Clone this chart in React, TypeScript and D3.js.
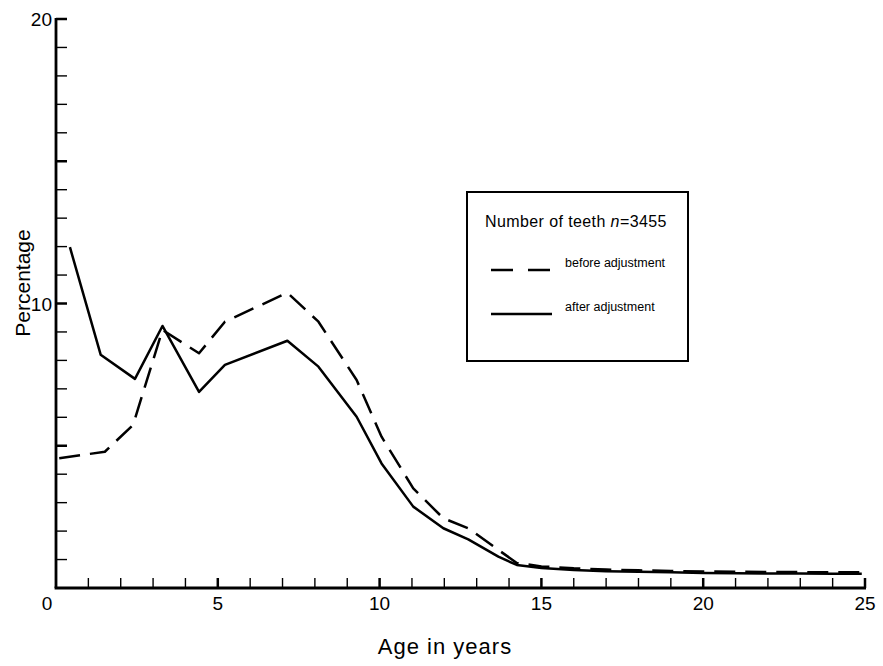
import React, { useEffect, useRef } from 'react';
import * as d3 from 'd3';

// Ages (years) and percentages
const ageAfter = [0.43, 1.38, 2.44, 3.29, 4.42, 5.22, 7.15, 8.11, 9.29, 10.06, 11.04, 11.97, 12.74, 13.67, 14.24, 15, 16, 17, 18, 19, 20, 21, 22, 23, 24, 24.9];
const pctAfter = [11.98, 8.2, 7.35, 9.21, 6.89, 7.84, 8.69, 7.78, 6.02, 4.38, 2.86, 2.1, 1.71, 1.1, 0.81, 0.7, 0.63, 0.59, 0.57, 0.55, 0.53, 0.52, 0.51, 0.51, 0.5, 0.5];

const ageBefore = [0.1, 1.51, 2.38, 3.29, 4.42, 5.22, 7.15, 8.11, 9.29, 10.06, 11.04, 11.97, 12.74, 13.67, 14.24, 15, 16, 17, 18, 19, 20, 21, 22, 23, 24, 24.9];
const pctBefore = [4.56, 4.79, 5.73, 9.07, 8.25, 9.36, 10.38, 9.36, 7.31, 5.32, 3.5, 2.45, 2.1, 1.34, 0.88, 0.76, 0.69, 0.65, 0.62, 0.6, 0.58, 0.57, 0.56, 0.56, 0.55, 0.55];

const xTickLabels = [0, 5, 10, 15, 20, 25];
const yTickLabels = [10, 20];

const legendTitle = 'Number of teeth ';
const legendN = 'n';
const legendValue = '=3455';
const seriesNames = ['before adjustment', 'after adjustment'];

const FONT = '"Liberation Sans", Arial, Helvetica, sans-serif';

const App = () => {
  const svgRef = useRef<SVGSVGElement>(null);

  useEffect(() => {
    const svg = d3.select(svgRef.current);
    svg.selectAll('*').remove();

    const width = 883;
    const height = 666;

    const x = d3.scaleLinear().domain([0, 25]).range([56, 865]);
    const y = d3.scaleLinear().domain([0, 20]).range([588, 19]);

    svg.attr('width', width).attr('height', height);
    svg.append('rect').attr('width', width).attr('height', height).attr('fill', '#fff');

    const g = svg.append('g');

    // x ticks (every year, pointing up into the plot)
    g.selectAll('.xtick').data(d3.range(1, 26)).join('line')
      .attr('class', 'xtick')
      .attr('x1', (d) => x(d)).attr('x2', (d) => x(d))
      .attr('y1', y(0)).attr('y2', y(0) - 10)
      .attr('stroke', '#000')
      .attr('stroke-width', (d) => (d % 5 === 0 ? 2.5 : 1.4));

    // y ticks (every percent, pointing right)
    g.selectAll('.ytick').data(d3.range(1, 21)).join('line')
      .attr('class', 'ytick')
      .attr('x1', x(0)).attr('x2', x(0) + 11)
      .attr('y1', (d) => y(d)).attr('y2', (d) => y(d))
      .attr('stroke', '#000')
      .attr('stroke-width', (d) => (d % 5 === 0 ? 2.5 : 1.4));

    // axis lines
    g.append('line')
      .attr('x1', x(0)).attr('x2', x(0))
      .attr('y1', y(20) - 1).attr('y2', y(0))
      .attr('stroke', '#000').attr('stroke-width', 2.8);
    g.append('line')
      .attr('x1', x(0) - 1.4).attr('x2', x(25) + 1)
      .attr('y1', y(0)).attr('y2', y(0))
      .attr('stroke', '#000').attr('stroke-width', 2.8);

    // tick labels
    g.selectAll('.xlabel').data(xTickLabels).join('text')
      .attr('class', 'xlabel')
      .attr('x', (d) => (d === 0 ? x(d) - 9 : x(d)))
      .attr('y', 610)
      .attr('text-anchor', 'middle')
      .style('font-family', FONT)
      .style('font-size', '19px')
      .text((d) => d);

    g.selectAll('.ylabel').data(yTickLabels).join('text')
      .attr('class', 'ylabel')
      .attr('x', x(0) - 4)
      .attr('y', (d) => y(d) + 7)
      .attr('text-anchor', 'end')
      .style('font-family', FONT)
      .style('font-size', '19px')
      .text((d) => d);

    // axis titles
    g.append('text')
      .attr('transform', `translate(30,${283}) rotate(-90)`)
      .attr('text-anchor', 'middle')
      .style('font-family', FONT)
      .style('font-size', '21px')
      .text('Percentage');

    g.append('text')
      .attr('x', 445)
      .attr('y', 654)
      .attr('text-anchor', 'middle')
      .style('font-family', FONT)
      .style('font-size', '22px')
      .style('letter-spacing', '1px')
      .text('Age in years');

    // data lines
    const line = d3.line<[number, number]>()
      .x((d) => x(d[0]))
      .y((d) => y(d[1]));

    const before = ageBefore.map((a, i) => [a, pctBefore[i]] as [number, number]);
    const after = ageAfter.map((a, i) => [a, pctAfter[i]] as [number, number]);

    g.append('path')
      .attr('d', line(before))
      .attr('fill', 'none')
      .attr('stroke', '#000')
      .attr('stroke-width', 2.5)
      .attr('stroke-dasharray', '21 10')
      .attr('stroke-linejoin', 'round');

    g.append('path')
      .attr('d', line(after))
      .attr('fill', 'none')
      .attr('stroke', '#000')
      .attr('stroke-width', 2.5)
      .attr('stroke-linejoin', 'round');

    // legend
    const lg = g.append('g').attr('transform', 'translate(467,192)');
    lg.append('rect')
      .attr('width', 221).attr('height', 169)
      .attr('fill', '#fff')
      .attr('stroke', '#000')
      .attr('stroke-width', 2);

    const title = lg.append('text')
      .attr('x', 18).attr('y', 35)
      .style('font-family', FONT)
      .style('font-size', '16px')
      .style('letter-spacing', '0.4px');
    title.append('tspan').text(legendTitle);
    title.append('tspan').style('font-style', 'italic').text(legendN);
    title.append('tspan').text(legendValue);

    seriesNames.forEach((name, i) => {
      const yy = 78 + i * 44;
      lg.append('line')
        .attr('x1', 24).attr('x2', 85)
        .attr('y1', yy).attr('y2', yy)
        .attr('stroke', '#000')
        .attr('stroke-width', 2.5)
        .attr('stroke-dasharray', i === 0 ? '22 15' : null);
      lg.append('text')
        .attr('x', 98).attr('y', yy - 3)
        .style('font-family', FONT)
        .style('font-size', '12.5px')
        .text(name);
    });
  }, []);

  return (
    <svg
      ref={svgRef}
      style={{ position: 'absolute', left: 0, top: 0, display: 'block' }}
    />
  );
};

export default App;
